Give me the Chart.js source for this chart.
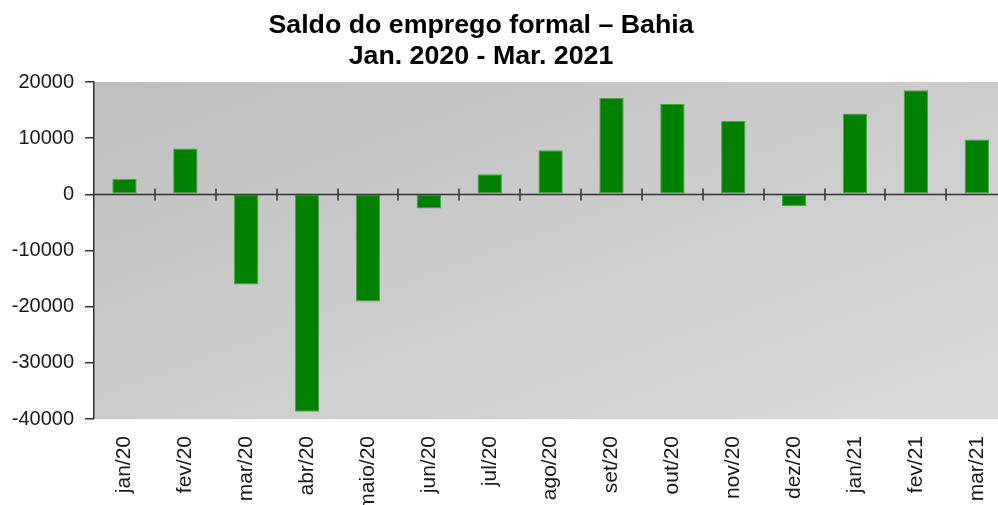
<!DOCTYPE html>
<html>
<head>
<meta charset="utf-8">
<script src="https://cdn.jsdelivr.net/npm/chart.js@4"></script>
<style>
  html, body { margin: 0; padding: 0; background: #fff; overflow: hidden; }
  #wrap { width: 998px; height: 505px; overflow: hidden; }
</style>
</head>
<body>
<div id="wrap"><canvas id="saldo-chart" width="1011" height="505"></canvas></div>
<script>
const titleLines = ['Saldo do emprego formal – Bahia', 'Jan. 2020 - Mar. 2021'];
const months = ['jan/20', 'fev/20', 'mar/20', 'abr/20', 'maio/20', 'jun/20', 'jul/20', 'ago/20',
    'set/20', 'out/20', 'nov/20', 'dez/20', 'jan/21', 'fev/21', 'mar/21'];
const saldo = [2730, 8160, -16070, -38700, -19100, -2500, 3570, 7860,
    17140, 16070, 13040, -2090, 14400, 18520, 9770];
const yTicks = [20000, 10000, 0, -10000, -20000, -30000, -40000];

// gray gradient behind the plot (darker top-left, lighter bottom-right)
const plotBackground = {
    id: 'plotBackground',
    beforeDraw(chart) {
        const { ctx, chartArea: a } = chart;
        const w = a.right - a.left, h = a.bottom - a.top;
        const t = (2 * w * h) / (w * w + h * h);
        const g = ctx.createLinearGradient(a.left, a.top, a.left + t * h, a.top + t * w);
        g.addColorStop(0, '#bfbfbf');
        g.addColorStop(1, '#dadada');
        ctx.save();
        ctx.fillStyle = g;
        ctx.fillRect(a.left, a.top, w, h);
        ctx.restore();
    }
};

// zero line with the category ticks
const zeroAxis = {
    id: 'zeroAxis',
    afterDatasetsDraw(chart) {
        const { ctx, chartArea: a, scales } = chart;
        const y0 = Math.round(scales.y.getPixelForValue(0)) + 0.5;
        ctx.save();
        ctx.strokeStyle = '#333';
        ctx.lineWidth = 1.5;
        ctx.beginPath();
        ctx.moveTo(a.left, y0);
        ctx.lineTo(a.right, y0);
        for (let i = 0; i < months.length - 1; i++) {
            const xm = Math.round((scales.x.getPixelForValue(i) + scales.x.getPixelForValue(i + 1)) / 2);
            ctx.moveTo(xm, y0 - 6);
            ctx.lineTo(xm, y0 + 6);
        }
        ctx.stroke();
        ctx.restore();
    }
};

const titleText = {
    id: 'titleText',
    afterDraw(chart) {
        const ctx = chart.ctx;
        ctx.save();
        ctx.fillStyle = '#000';
        ctx.font = 'bold 25px "Liberation Sans", Arial, sans-serif';
        ctx.textAlign = 'center';
        ctx.textBaseline = 'alphabetic';
        ctx.translate(481, 0);
        ctx.scale(1.07, 1);
        ctx.fillText(titleLines[0], 0, 33);
        ctx.fillText(titleLines[1], 0, 64);
        ctx.restore();
    }
};

new Chart(document.getElementById('saldo-chart'), {
    type: 'bar',
    data: {
        labels: months,
        datasets: [{
            data: saldo,
            backgroundColor: '#008000',
            borderColor: '#45a845',
            borderWidth: 1,
            borderSkipped: false,
            categoryPercentage: 1,
            barPercentage: 0.4
        }]
    },
    options: {
        responsive: false,
        animation: false,
        layout: { padding: { top: 82, right: 0, left: 0, bottom: 0 } },
        plugins: { legend: { display: false }, title: { display: false }, tooltip: { enabled: false } },
        scales: {
            x: {
                grid: { display: false },
                border: { display: false },
                ticks: {
                    minRotation: 90, maxRotation: 90, padding: 9, autoSkip: false,
                    color: '#1a1a1a', font: { family: '"Liberation Sans", Arial, sans-serif', size: 21 }
                },
                afterFit(scale) { scale.height = 86; }
            },
            y: {
                min: -40000, max: 20000,
                afterBuildTicks(scale) { scale.ticks = yTicks.map(v => ({ value: v })); },
                grid: { drawOnChartArea: false, drawTicks: true, tickLength: 9, color: '#333', lineWidth: 1.5 },
                border: { display: true, color: '#333', width: 1.5 },
                ticks: {
                    padding: 11,
                    color: '#1a1a1a', font: { family: '"Liberation Sans", Arial, sans-serif', size: 20 },
                    callback: v => String(v)
                },
                afterFit(scale) { scale.width = 94; }
            }
        }
    },
    plugins: [plotBackground, zeroAxis, titleText]
});
</script>
</body>
</html>
